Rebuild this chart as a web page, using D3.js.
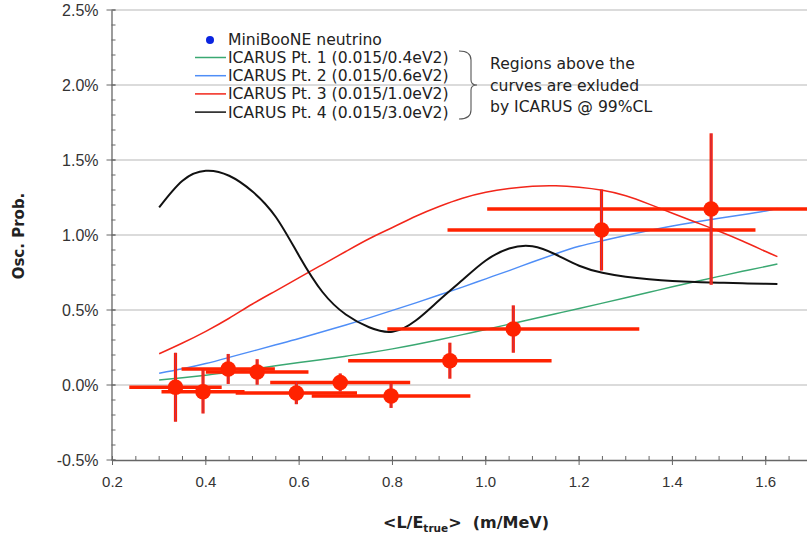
<!DOCTYPE html>
<html><head><meta charset="utf-8">
<script src="https://cdn.jsdelivr.net/npm/d3@7/dist/d3.min.js"></script>
<style>
html,body{margin:0;padding:0;background:#fff;}
svg{display:block;font-family:"DejaVu Sans",Verdana,sans-serif;}
</style></head>
<body><svg id="c" width="807" height="539"></svg>
<script>
// ---- data ----
const xTicks = [0.2, 0.4, 0.6, 0.8, 1.0, 1.2, 1.4, 1.6];
const yTicks = [-0.5, 0.0, 0.5, 1.0, 1.5, 2.0, 2.5];

const pointX = [0.335, 0.394, 0.448, 0.510, 0.594, 0.688, 0.797, 0.923, 1.059, 1.248, 1.483];
const pointY = [-0.015, -0.045, 0.107, 0.087, -0.053, 0.017, -0.073, 0.162, 0.373, 1.033, 1.173];
const pointXErr = [0.099, 0.089, 0.100, 0.110, 0.130, 0.150, 0.170, 0.218, 0.270, 0.330, 0.480];
const pointYErr = [0.230, 0.145, 0.100, 0.085, 0.075, 0.060, 0.080, 0.120, 0.158, 0.270, 0.505];

const curveX = [0.30,0.35,0.40,0.45,0.50,0.55,0.60,0.65,0.70,0.75,0.80,0.85,0.90,0.95,1.00,1.05,1.10,1.15,1.20,1.25,1.30,1.35,1.40,1.45,1.50,1.55,1.60,1.625];
const pt1 = [0.033,0.048,0.065,0.084,0.106,0.128,0.150,0.170,0.192,0.215,0.241,0.270,0.302,0.336,0.370,0.405,0.440,0.475,0.510,0.546,0.582,0.618,0.655,0.690,0.724,0.758,0.790,0.807];
const pt2 = [0.078,0.108,0.143,0.184,0.226,0.268,0.310,0.355,0.400,0.447,0.497,0.548,0.600,0.653,0.708,0.763,0.820,0.875,0.925,0.962,0.997,1.030,1.060,1.087,1.112,1.135,1.160,1.178];
const pt3 = [0.208,0.280,0.358,0.445,0.540,0.628,0.716,0.803,0.890,0.975,1.050,1.125,1.190,1.245,1.285,1.310,1.325,1.328,1.318,1.298,1.262,1.206,1.145,1.085,1.025,0.960,0.890,0.856];
const pt4 = [1.184,1.362,1.428,1.395,1.290,1.120,0.860,0.620,0.470,0.385,0.355,0.430,0.565,0.700,0.830,0.910,0.925,0.870,0.795,0.748,0.722,0.705,0.693,0.686,0.682,0.678,0.675,0.673];

const seriesNames = ["ICARUS Pt. 1 (0.015/0.4eV2)","ICARUS Pt. 2 (0.015/0.6eV2)","ICARUS Pt. 3 (0.015/1.0eV2)","ICARUS Pt. 4 (0.015/3.0eV2)"];
const seriesColors = ["#3aa872","#4f8ef7","#f2261a","#111111"];
const seriesWidths = [1.4,1.4,1.5,2];
const pointName = "MiniBooNE neutrino";
const noteLines = ["Regions above the","curves are exluded","by ICARUS @ 99%CL"];

// ---- layout ----
const svg = d3.select("#c");
const x = d3.scaleLinear().domain([0.2, 1.7]).range([112.5, 812.4]);
const y = d3.scaleLinear().domain([-0.5, 2.5]).range([460, 10]);
const axisCol = "#666";
const fs = 15;
const lfs = 15.6;

// gridlines
svg.append("g").selectAll("line").data(yTicks.filter(d => d > -0.5)).join("line")
  .attr("x1", x(0.2)).attr("x2", 807).attr("y1", d => y(d)).attr("y2", d => y(d))
  .attr("stroke", "#cfcfcf").attr("stroke-width", 1.3);

// axes
const xAxis = svg.append("g").attr("transform", `translate(0,${y(-0.5)})`);
xAxis.call(d3.axisBottom(x).tickValues(d3.range(0.2, 1.71, 0.05)).tickSize(0).tickFormat(""));
xAxis.select(".domain").attr("stroke", axisCol).attr("stroke-width", 1.3);
xAxis.selectAll(".tick line").remove();
xAxis.selectAll(".minor").data(d3.range(0.2, 1.71, 0.05)).join("line")
  .attr("x1", d => x(d)).attr("x2", d => x(d)).attr("y1", -4).attr("y2", 0)
  .attr("stroke", axisCol);
xAxis.selectAll(".major").data(xTicks).join("line")
  .attr("x1", d => x(d)).attr("x2", d => x(d)).attr("y1", -4).attr("y2", 5)
  .attr("stroke", axisCol);
xAxis.selectAll(".lab").data(xTicks).join("text")
  .attr("x", d => x(d)).attr("y", 27).attr("text-anchor", "middle")
  .attr("font-size", fs).attr("fill", "#333").text(d => d.toFixed(1));

const yAxis = svg.append("g").attr("transform", `translate(${x(0.2) - 1},0)`);
yAxis.call(d3.axisLeft(y).tickValues(yTicks).tickSize(0).tickFormat(""));
yAxis.select(".domain").attr("stroke", axisCol).attr("stroke-width", 1.3);
yAxis.selectAll(".minor").data(d3.range(-0.5, 2.51, 0.1)).join("line")
  .attr("x1", 0).attr("x2", 4).attr("y1", d => y(d)).attr("y2", d => y(d))
  .attr("stroke", axisCol);
yAxis.selectAll(".major").data(yTicks).join("line")
  .attr("x1", -5).attr("x2", 4).attr("y1", d => y(d)).attr("y2", d => y(d))
  .attr("stroke", axisCol);
yAxis.selectAll(".lab").data(yTicks).join("text")
  .attr("x", -13).attr("y", d => y(d)).attr("dy", "0.36em").attr("text-anchor", "end")
  .attr("font-size", 16).attr("fill", "#333").text(d => d.toFixed(1) + "%");

// titles
svg.append("text").attr("transform", "translate(24,236) rotate(-90)")
  .attr("text-anchor", "middle").attr("font-size", fs).attr("font-weight", "bold")
  .attr("fill", "#222").text("Osc. Prob.");
const xt = svg.append("text").attr("x", 466).attr("y", 528).attr("text-anchor", "middle")
  .attr("font-size", 16).attr("font-weight", "bold").attr("fill", "#222");
xt.append("tspan").text("<L/E");
xt.append("tspan").attr("font-size", 10.5).attr("dy", 4).text("true");
xt.append("tspan").attr("dy", -4).text(">\u00a0\u00a0(m/MeV)");

// curves
const series = [pt1, pt2, pt3, pt4];
const line = d3.line().x((d, i) => x(curveX[i])).y(d => y(d)).curve(d3.curveNatural);
svg.append("g").selectAll("path").data(series).join("path")
  .attr("d", d => line(d)).attr("fill", "none")
  .attr("stroke", (d, i) => seriesColors[i]).attr("stroke-width", (d, i) => seriesWidths[i]);

// error bars & points
const red = "#ff2200";
const pts = pointX.map((v, i) => ({x: v, y: pointY[i], ex: pointXErr[i], ey: pointYErr[i]}));
const g = svg.append("g");
g.selectAll(".hb").data(pts).join("line")
  .attr("x1", d => x(d.x - d.ex)).attr("x2", d => x(d.x + d.ex))
  .attr("y1", d => y(d.y)).attr("y2", d => y(d.y))
  .attr("stroke", red).attr("stroke-width", 3.6);
g.selectAll(".vb").data(pts).join("line")
  .attr("x1", d => x(d.x)).attr("x2", d => x(d.x))
  .attr("y1", d => y(d.y - d.ey)).attr("y2", d => y(d.y + d.ey))
  .attr("stroke", red).attr("stroke-width", 3.2);
g.selectAll(".vb2").data(pts).join("line")
  .attr("x1", d => x(d.x)).attr("x2", d => x(d.x))
  .attr("y1", d => y(d.y - d.ey)).attr("y2", d => y(d.y + d.ey))
  .attr("stroke", "#5050ff").attr("stroke-width", 1).attr("opacity", 0.35);
g.selectAll("circle").data(pts).join("circle")
  .attr("cx", d => x(d.x)).attr("cy", d => y(d.y)).attr("r", 7.8).attr("fill", red);

// legend
const lg = svg.append("g");
lg.append("circle").attr("cx", 210).attr("cy", 40).attr("r", 4).attr("fill", "#0a24e0");
lg.append("text").attr("x", 228).attr("y", 45).attr("font-size", lfs).attr("fill", "#222").text(pointName);
seriesNames.forEach((n, i) => {
  const cy = 57.5 + i * 18.2;
  lg.append("line").attr("x1", 195).attr("x2", 226).attr("y1", cy).attr("y2", cy)
    .attr("stroke", seriesColors[i]).attr("stroke-width", 1.5);
  lg.append("text").attr("x", 228).attr("y", cy + 5.5).attr("font-size", lfs).attr("fill", "#222").text(n);
});
// brace
svg.append("path")
  .attr("d", "M459,51 Q471,51 471,60 L471,80 Q471,85 477,85 Q471,85 471,90 L471,110 Q471,119 459,119")
  .attr("fill", "none").attr("stroke", "#555").attr("stroke-width", 1.1);
noteLines.forEach((t, i) => {
  svg.append("text").attr("x", 490).attr("y", 69 + i * 21.7).attr("font-size", lfs)
    .attr("fill", "#222").text(t);
});
</script></body></html>
